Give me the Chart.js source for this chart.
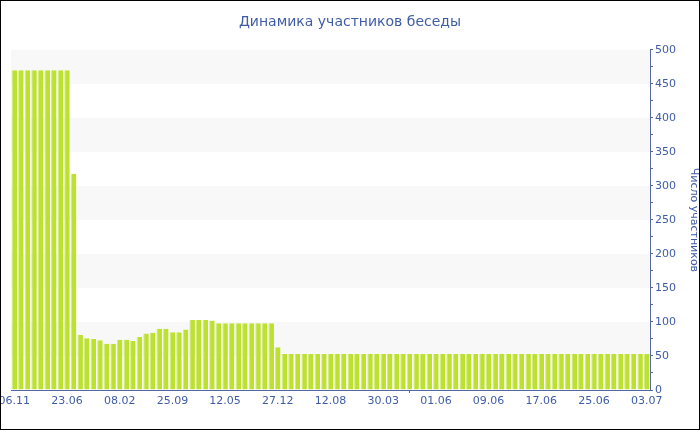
<!DOCTYPE html>
<html>
<head>
<meta charset="utf-8">
<script src="https://cdn.jsdelivr.net/npm/chart.js@4"></script>
<style>
  body { margin: 0; background: #fff; }
</style>
</head>
<body>
<canvas id="chat" width="700" height="430"></canvas>
<script>
var tickLabels = ["06.11", "23.06", "08.02", "25.09", "12.05", "27.12", "12.08", "30.03", "01.06", "09.06", "17.06", "25.06", "03.07"];
var members = [
  470, 470, 470, 470, 470, 470, 470, 470, 470, 318,
  81, 76, 75, 73, 68, 68, 74, 74, 72, 78,
  83, 84, 90, 90, 85, 85, 89, 103, 103, 103,
  102, 98, 98, 98, 98, 98, 98, 98, 98, 98,
  63, 53, 53, 53, 53, 53, 53, 53, 53, 53,
  53, 53, 53, 53, 53, 53, 53, 53, 53, 53,
  53, 53, 53, 53, 53, 53, 53, 53, 53, 53,
  53, 53, 53, 53, 53, 53, 53, 53, 53, 53,
  53, 53, 53, 53, 53, 53, 53, 53, 53, 53,
  53, 53, 53, 53, 53, 53, 53
];
var labelEvery = 8;
var bands = [[50, 100], [150, 200], [250, 300], [350, 400], [450, 500]];

var categories = members.map(function (v, i) {
  return i % labelEvery === 0 ? tickLabels[i / labelEvery] : '';
});

var blue = '#3f5ca6';
var axisBlue = '#5468a8';

var bandPlugin = {
  id: 'bands',
  beforeDatasetsDraw: function (chart) {
    var ctx = chart.ctx, area = chart.chartArea, y = chart.scales.y;
    ctx.save();
    ctx.fillStyle = '#f8f8f8';
    bands.forEach(function (b) {
      var top = y.getPixelForValue(b[1]), bot = y.getPixelForValue(b[0]);
      ctx.fillRect(area.left, top, area.right - area.left, bot - top);
    });
    ctx.restore();
  }
};

var framePlugin = {
  id: 'frame',
  afterDraw: function (chart) {
    var ctx = chart.ctx;
    ctx.save();
    ctx.strokeStyle = '#000';
    ctx.lineWidth = 1;
    ctx.strokeRect(0.5, 0.5, chart.width - 1, chart.height - 1);
    ctx.restore();
  }
};

Chart.defaults.font.family = '"DejaVu Sans", Verdana, sans-serif';
Chart.defaults.font.size = 11;
Chart.defaults.color = blue;

var ctxchat = document.getElementById("chat");
var myBarChart = new Chart(ctxchat, {
  type: 'bar',
  data: {
    labels: categories,
    datasets: [{
      label: 'Число участников',
      data: members,
      backgroundColor: '#bde12f',
      borderColor: '#d3eb80',
      borderWidth: { left: 1, right: 0, top: 0, bottom: 0 },
      categoryPercentage: 1,
      barPercentage: 0.84
    }]
  },
  options: {
    responsive: false,
    animation: false,
    layout: { padding: 0 },
    plugins: {
      legend: { display: false },
      tooltip: { enabled: false },
      title: {
        display: true,
        text: 'Динамика участников беседы',
        color: blue,
        font: { size: 14, weight: 'normal' },
        padding: { top: 14, bottom: 19 }
      }
    },
    scales: {
      x: {
        grid: {
          drawOnChartArea: false,
          tickLength: 3,
          tickColor: function (c) { return c.index % labelEvery === 0 ? axisBlue : 'rgba(0,0,0,0)'; }
        },
        border: { color: axisBlue },
        ticks: {
          autoSkip: false,
          maxRotation: 0,
          padding: 2,
          color: blue,
          callback: function (v, i) { return i % labelEvery === 0 ? tickLabels[i / labelEvery] : null; }
        },
        afterFit: function (s) { s.height = 40; s.paddingLeft = 11; s.paddingRight = 0; }
      },
      y: {
        position: 'right',
        min: 0,
        max: 500,
        grid: { drawOnChartArea: false, tickLength: 3, color: axisBlue },
        border: { color: axisBlue },
        ticks: {
          stepSize: 25,
          padding: 2,
          color: blue,
          callback: function (v) { return v % 50 === 0 ? v : ''; }
        },
        title: {
          display: true,
          text: 'Число участников',
          color: blue,
          font: { size: 11 },
          padding: { top: 0, bottom: 5 }
        },
        afterFit: function (s) { s.width = 50; }
      }
    }
  },
  plugins: [bandPlugin, framePlugin]
});
</script>
</body>
</html>
